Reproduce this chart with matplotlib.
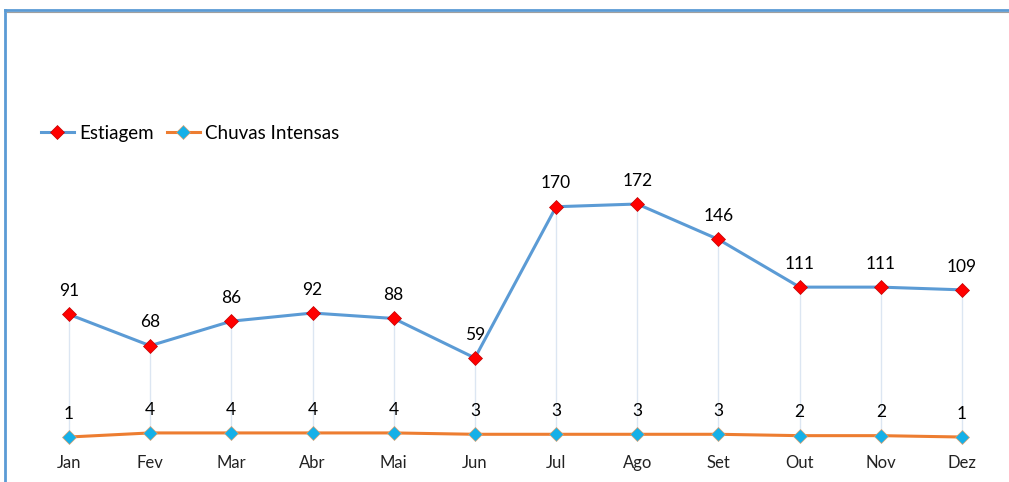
import matplotlib
matplotlib.use("Agg")
import matplotlib.pyplot as plt
from matplotlib.lines import Line2D

months = ["Jan", "Fev", "Mar", "Abr", "Mai", "Jun", "Jul", "Ago", "Set", "Out", "Nov", "Dez"]
estiagem = [91, 68, 86, 92, 88, 59, 170, 172, 146, 111, 111, 109]
chuvas = [1, 4, 4, 4, 4, 3, 3, 3, 3, 2, 2, 1]

plt.rcParams["font.family"] = ["Lato", "DejaVu Sans"]

fig = plt.figure(figsize=(10.09, 4.82), dpi=100)
ax = fig.add_axes([0.0281, 0.0905, 0.9656, 0.5654])
x = list(range(len(months)))

# drop lines from the higher series down to the axis
ax.vlines(x, 0, estiagem, color="#DCE6F2", linewidth=1, zorder=1)

ax.plot(x, estiagem, color="#5B9BD5", linewidth=2.2, marker="D", markersize=7,
        markerfacecolor="#FF0000", markeredgecolor="#C00000", markeredgewidth=0.5,
        label="Estiagem", zorder=3, clip_on=False)
ax.plot(x, chuvas, color="#ED7D31", linewidth=2.2, marker="D", markersize=7,
        markerfacecolor="#15B0E8", markeredgecolor="#D9A070", markeredgewidth=0.5,
        label="Chuvas Intensas", zorder=3, clip_on=False)

for xi, v in zip(x, estiagem):
    ax.annotate(str(v), (xi, v), xytext=(0, 11), textcoords="offset points",
                ha="center", va="bottom", fontsize=12.5, color="#000000")
for xi, v in zip(x, chuvas):
    ax.annotate(str(v), (xi, v), xytext=(0, 11), textcoords="offset points",
                ha="center", va="bottom", fontsize=12.5, color="#000000")

ax.set_xlim(-0.5, 11.5)
ax.set_ylim(0, 200)
ax.set_xticks(x)
ax.set_xticklabels(months, fontsize=12, color="#222222")
ax.tick_params(axis="x", length=0, pad=12)
ax.set_yticks([])
for s in ax.spines.values():
    s.set_visible(False)

leg = fig.legend(loc="upper left", bbox_to_anchor=(0.033, 0.757), ncol=2, frameon=False,
                 fontsize=13.5, handlelength=1.75, handletextpad=0.3, columnspacing=0.7,
                 borderaxespad=0)

# chart frame (left and top edges)
fig.add_artist(Line2D([0.0045, 0.0045], [0.0, 0.979], color="#5B9BD5", linewidth=2))
fig.add_artist(Line2D([0.0045, 1.0], [0.979, 0.979], color="#5B9BD5", linewidth=2))
fig.add_artist(Line2D([0.0065, 1.0], [0.975, 0.975], color="#A0A0A0", linewidth=0.8))

fig.savefig("out.png", dpi=100)
